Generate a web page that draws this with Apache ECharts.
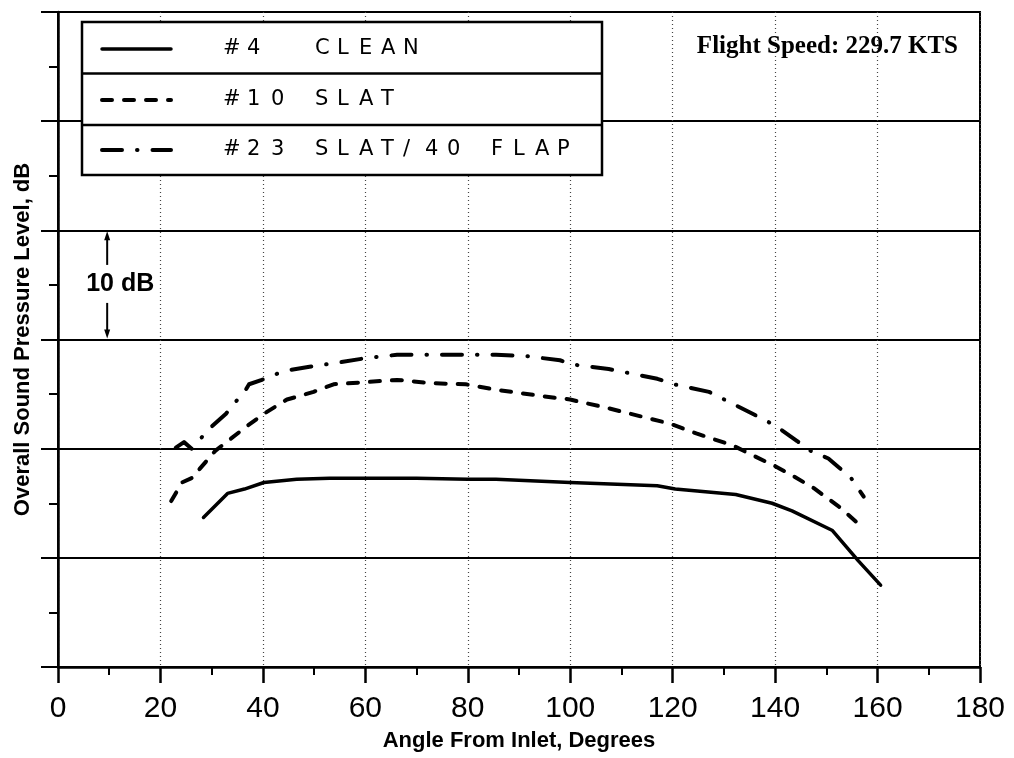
<!DOCTYPE html>
<html lang="en">
<head>
<meta charset="UTF-8">
<title>Overall Sound Pressure Level vs Angle</title>
<script src="https://cdn.jsdelivr.net/npm/echarts@6.0.0/dist/echarts.min.js"></script>
<style>
  html, body { margin: 0; padding: 0; background: #fff; }
  #chart { width: 1014px; height: 758px; }
</style>
</head>
<body>
<div id="chart"></div>
<script>
// series labels (legend rows are drawn as a boxed table like the original)
var seriesNames = ['#4 CLEAN', '#10 SLAT', '#23 SLAT/40 FLAP'];
var legendNums = ['#4', '#10', '#23'];
var legendWords = ['CLEAN', 'SLAT', 'SLAT/40 FLAP'];
var flightSpeed = 'Flight Speed: 229.7 KTS';

// angle from inlet (deg) / OASPL (dB, relative - axis is unlabeled)
var cleanAngle = [28.4, 33.1, 36.4, 40.2, 46.6, 53, 60, 70, 80, 85.5, 100, 117, 120.5, 132.3, 139.4, 143.3, 151.2, 156.3, 160.6];
var cleanLevel = [83.7, 85.9, 86.3, 86.9, 87.2, 87.3, 87.3, 87.3, 87.2, 87.2, 86.9, 86.6, 86.3, 85.8, 85.0, 84.3, 82.5, 79.7, 77.5];

var slatAngle = [22.1, 24.2, 26.1, 30.7, 37, 40.2, 44.7, 49.9, 53.8, 60.2, 66.2, 72.8, 79.6, 85.5, 94.7, 100, 107.5, 115.1, 119.4, 124.6, 131.7, 135.6, 140, 143.5, 147.5, 152.7, 156.8];
var slatLevel = [85.2, 86.9, 87.3, 89.8, 92.1, 93.2, 94.5, 95.2, 95.9, 96.1, 96.3, 96.0, 95.9, 95.4, 94.8, 94.5, 93.7, 92.8, 92.3, 91.4, 90.3, 89.4, 88.4, 87.5, 86.4, 84.6, 82.9];

var flapAngle = [23, 24.6, 26.1, 27.8, 29.7, 32.8, 34.5, 36.4, 37.3, 39.8, 42.3, 45.2, 49.1, 54.9, 60.2, 66.2, 76.2, 85.5, 91.1, 98, 100.6, 107.5, 117, 120.2, 127.1, 135.6, 138.5, 141, 144.3, 146.5, 150.4, 152.4, 154.7, 157.3];
var flapLevel = [90.1, 90.6, 90.0, 90.9, 91.9, 93.2, 94.2, 95.2, 95.9, 96.3, 96.8, 97.2, 97.5, 97.9, 98.3, 98.6, 98.6, 98.6, 98.5, 98.1, 97.7, 97.3, 96.4, 95.9, 95.2, 93.2, 92.5, 91.8, 90.7, 89.9, 89.1, 88.3, 87.4, 85.6];

// "10 dB" scale bar
var scaleBarAngle = 9.6;
var scaleBarLevels = [110, 100];
var scaleBarText = '10 dB';

function zip(a, b) {
    return a.map(function (v, i) { return [v, b[i]]; });
}

var lineStyles = [
    { width: 3.5, type: 'solid', cap: 'round' },
    { width: 4, type: [10, 12], cap: 'round' },
    { width: 4, type: [20, 15, 0.5, 15], cap: 'round' }
];
var seriesData = [zip(cleanAngle, cleanLevel), zip(slatAngle, slatLevel), zip(flapAngle, flapLevel)];

var chart = echarts.init(document.getElementById('chart'));

var option = {
    backgroundColor: '#fff',
    animation: false,
    grid: {
        left: 58, right: 34, top: 12, bottom: 91,
        containLabel: false,
        outerBoundsMode: 'none',
        show: true, borderColor: '#000', borderWidth: 2
    },
    xAxis: {
        type: 'value',
        min: 0, max: 180, interval: 20,
        name: 'Angle From Inlet, Degrees',
        nameLocation: 'middle',
        nameGap: 63,
        nameTextStyle: { fontFamily: 'Liberation Sans', fontWeight: 'bold', fontSize: 22, color: '#000' },
        axisLine: { lineStyle: { color: '#000', width: 2.5 } },
        axisTick: { length: 16, lineStyle: { color: '#000', width: 2.5 } },
        minorTick: { show: true, splitNumber: 2, length: 8, lineStyle: { color: '#000', width: 2 } },
        axisLabel: { fontFamily: 'Liberation Sans', fontSize: 30, color: '#000', margin: 27 },
        splitLine: { show: true, lineStyle: { color: '#444', width: 1.2, type: [1, 3] } }
    },
    yAxis: {
        type: 'value',
        min: 70, max: 130, interval: 10,
        name: 'Overall Sound Pressure Level, dB',
        nameLocation: 'middle',
        nameGap: 24,
        nameTextStyle: { fontFamily: 'Liberation Sans', fontWeight: 'bold', fontSize: 22, color: '#000' },
        axisLine: { lineStyle: { color: '#000', width: 2.5 } },
        axisTick: { length: 17, lineStyle: { color: '#000', width: 2 } },
        minorTick: { show: true, splitNumber: 2, length: 9, lineStyle: { color: '#000', width: 2 } },
        axisLabel: { show: false },
        splitLine: { show: true, lineStyle: { color: '#000', width: 2.2 } }
    },
    series: seriesNames.map(function (name, i) {
        return {
            name: name,
            type: 'line',
            data: seriesData[i],
            symbol: 'none',
            silent: true,
            lineStyle: { color: '#000', width: lineStyles[i].width, type: lineStyles[i].type, cap: lineStyles[i].cap, join: 'round' },
            z: 5
        };
    })
};
chart.setOption(option);

// legend table, flight speed note and the 10 dB scale bar
var rowY = [49, 100, 150];
var legendFont = '21px "DejaVu Sans"';
var graphics = [
    {
        type: 'rect', z: 100,
        shape: { x: 82, y: 22, width: 520, height: 153 },
        style: { fill: '#fff', stroke: '#000', lineWidth: 2.5 }
    },
    { type: 'line', z: 101, shape: { x1: 82, y1: 73.5, x2: 602, y2: 73.5 }, style: { stroke: '#000', lineWidth: 2.5 } },
    { type: 'line', z: 101, shape: { x1: 82, y1: 125, x2: 602, y2: 125 }, style: { stroke: '#000', lineWidth: 2.5 } }
];
// typewriter-style spaced lettering: one glyph per cell
function spacedText(str, x0, pitch, y) {
    str.split('').forEach(function (ch, k) {
        if (ch === ' ') return;
        graphics.push({
            type: 'text', z: 101,
            style: { text: ch, x: x0 + k * pitch, y: y, textVerticalAlign: 'middle', font: legendFont, fill: '#000' }
        });
    });
}
seriesNames.forEach(function (name, i) {
    var ls = lineStyles[i];
    graphics.push({
        type: 'line', z: 101,
        shape: { x1: 102, y1: rowY[i], x2: 171, y2: rowY[i] },
        style: { stroke: '#000', lineWidth: ls.width, lineDash: ls.type === 'solid' ? null : ls.type, lineCap: 'round' }
    });
    spacedText(legendNums[i], 223, 24, rowY[i]);
    spacedText(legendWords[i], 315, 22, rowY[i]);
});
graphics.push({
    type: 'text', z: 101,
    style: { text: flightSpeed, x: 958, y: 47, textAlign: 'right', textVerticalAlign: 'middle', font: 'bold 25px "Liberation Serif"', fill: '#000' }
});

var pTop = chart.convertToPixel({ gridIndex: 0 }, [scaleBarAngle, scaleBarLevels[0]]);
var pBot = chart.convertToPixel({ gridIndex: 0 }, [scaleBarAngle, scaleBarLevels[1]]);
var midY = (pTop[1] + pBot[1]) / 2;
graphics.push(
    { type: 'line', z: 50, shape: { x1: pTop[0], y1: pTop[1] + 6, x2: pTop[0], y2: midY - 20 }, style: { stroke: '#000', lineWidth: 2 } },
    { type: 'line', z: 50, shape: { x1: pBot[0], y1: midY + 18, x2: pBot[0], y2: pBot[1] - 6 }, style: { stroke: '#000', lineWidth: 2 } },
    { type: 'polygon', z: 50, shape: { points: [[pTop[0], pTop[1] + 1], [pTop[0] - 3, pTop[1] + 10], [pTop[0] + 3, pTop[1] + 10]] }, style: { fill: '#000' } },
    { type: 'polygon', z: 50, shape: { points: [[pBot[0], pBot[1] - 1], [pBot[0] - 3, pBot[1] - 10], [pBot[0] + 3, pBot[1] - 10]] }, style: { fill: '#000' } },
    {
        type: 'text', z: 50,
        style: { text: scaleBarText, x: pTop[0] - 21, y: midY - 1, textVerticalAlign: 'middle', font: 'bold 25px "Liberation Sans"', fill: '#000' }
    }
);
chart.setOption({ graphic: { elements: graphics } });

window.onresize = function () { chart.resize(); };
</script>
</body>
</html>
